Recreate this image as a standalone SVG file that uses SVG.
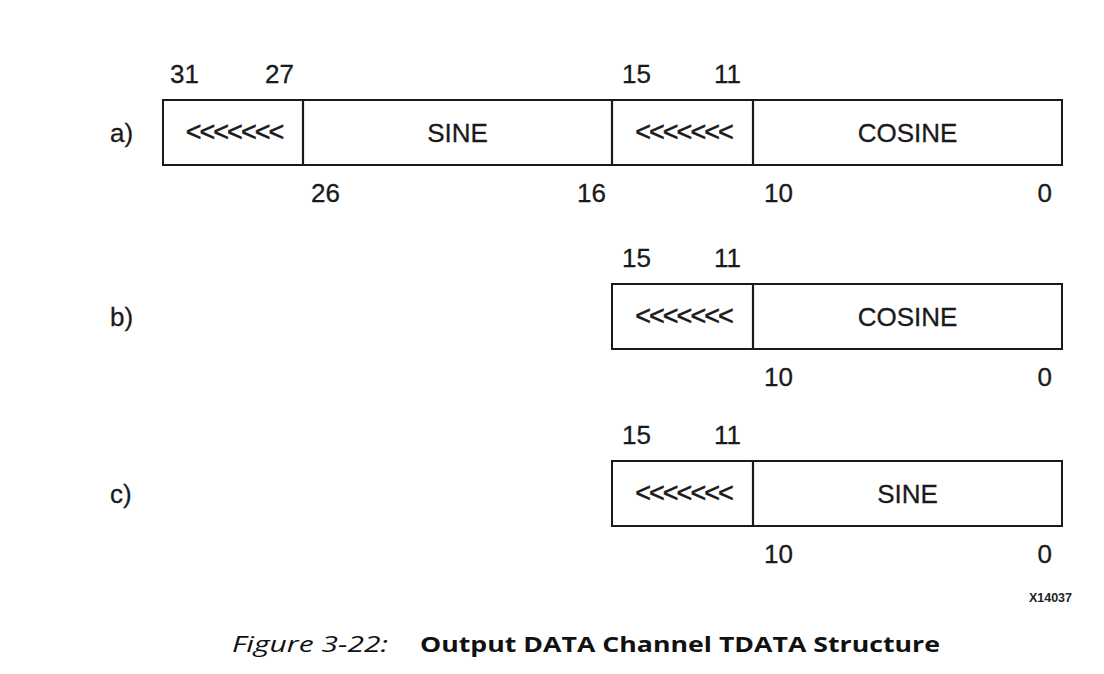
<svg xmlns="http://www.w3.org/2000/svg" width="1104" height="674" viewBox="0 0 1104 674">
<style>
.box{fill:#fff;stroke:#1a1a1a;stroke-width:2}
.div{stroke:#1a1a1a;stroke-width:2.2}
.t{font-family:"Liberation Sans",Arial,sans-serif;font-size:26px;fill:#1a1a1a;stroke:#1a1a1a;stroke-width:0.3}
.m{text-anchor:middle}
.e{text-anchor:end}
.arr{font-family:"Liberation Sans",Arial,sans-serif;font-size:27px;fill:#1a1a1a;stroke:#1a1a1a;stroke-width:0.5;text-anchor:middle;letter-spacing:-2px}
.cap{font-family:"Open Sans","Noto Sans",sans-serif;font-size:21px;fill:#111}
</style>
<rect width="1104" height="674" fill="#fff"/>
<g id="row-a">
<text class="t" x="110" y="142">a)</text>
<rect class="box" x="163" y="100" width="899" height="65"/>
<line class="div" x1="303" y1="100" x2="303" y2="165"/>
<line class="div" x1="612" y1="100" x2="612" y2="165"/>
<line class="div" x1="753" y1="100" x2="753" y2="165"/>
<text class="arr" x="234" y="141">&lt;&lt;&lt;&lt;&lt;&lt;&lt;</text>
<text class="t m" x="457.5" y="142">SINE</text>
<text class="arr" x="683.5" y="141">&lt;&lt;&lt;&lt;&lt;&lt;&lt;</text>
<text class="t m" x="907.5" y="142">COSINE</text>
<text class="t" x="170" y="83">31</text>
<text class="t e" x="294" y="83">27</text>
<text class="t" x="622" y="83">15</text>
<text class="t e" x="741" y="83">11</text>
<text class="t" x="311" y="202">26</text>
<text class="t e" x="606" y="202">16</text>
<text class="t" x="764" y="202">10</text>
<text class="t e" x="1052" y="202">0</text>
</g>
<g id="row-b">
<text class="t" x="110" y="326">b)</text>
<rect class="box" x="612" y="284" width="450" height="65"/>
<line class="div" x1="753" y1="284" x2="753" y2="349"/>
<text class="arr" x="683.5" y="325">&lt;&lt;&lt;&lt;&lt;&lt;&lt;</text>
<text class="t m" x="907.5" y="326">COSINE</text>
<text class="t" x="622" y="267">15</text>
<text class="t e" x="741" y="267">11</text>
<text class="t" x="764" y="386">10</text>
<text class="t e" x="1052" y="386">0</text>
</g>
<g id="row-c">
<text class="t" x="110" y="503">c)</text>
<rect class="box" x="612" y="461" width="450" height="65"/>
<line class="div" x1="753" y1="461" x2="753" y2="526"/>
<text class="arr" x="683.5" y="502">&lt;&lt;&lt;&lt;&lt;&lt;&lt;</text>
<text class="t m" x="907.5" y="503">SINE</text>
<text class="t" x="622" y="444">15</text>
<text class="t e" x="741" y="444">11</text>
<text class="t" x="764" y="563">10</text>
<text class="t e" x="1052" y="563">0</text>
</g>
<g id="connectors"></g>
<text x="1072" y="602" font-family="Liberation Sans,Arial,sans-serif" font-size="12.5" font-weight="bold" fill="#222" text-anchor="end">X14037</text>
<text class="cap" x="232" y="652" font-style="italic" textLength="156" lengthAdjust="spacingAndGlyphs">Figure 3-22:</text>
<text class="cap" x="420" y="652" font-weight="bold" textLength="520" lengthAdjust="spacingAndGlyphs">Output DATA Channel TDATA Structure</text>
</svg>
